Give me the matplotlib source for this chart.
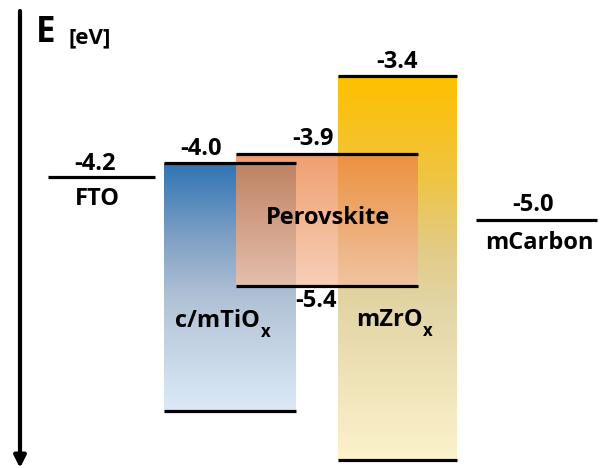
import numpy as np
import matplotlib.pyplot as plt
from matplotlib.colors import to_rgb

# Energieniveaus (eV), wie im Bild beschriftet
schichten = ['FTO', 'c/mTiO', 'Perovskite', 'mZrO', 'mCarbon']
oben_ev = [-4.2, -4.0, -3.9, -3.4, -5.0]
unten_ev = [None, None, -5.4, None, None]

# Schema-Layout (Bildkoordinaten, y nach unten)
links = [48, 164, 236, 338, 476]
rechts = [155, 296, 418, 457, 597]
oben_y = [177, 163, 154, 76, 220]
unten_y = [None, 411, 286, 460, None]

plt.rcParams['font.family'] = ['Open Sans', 'DejaVu Sans']
plt.rcParams['font.weight'] = 'bold'

fig = plt.figure(figsize=(6.03, 4.68), dpi=100)
ax = fig.add_axes([0, 0, 1, 1])
ax.set_xlim(0, 603)
ax.set_ylim(468, 0)
ax.axis('off')


def verlauf(x0, x1, y0, y1, stops, alpha=1.0, z=1):
    n = 200
    pos = np.linspace(0, 1, n)
    sp = [s[0] for s in stops]
    cols = np.array([to_rgb(s[1]) for s in stops])
    rgb = np.stack([np.interp(pos, sp, cols[:, k]) for k in range(3)], axis=1)
    img = np.ones((n, 1, 4))
    img[:, 0, :3] = rgb
    img[:, 0, 3] = alpha
    ax.imshow(img, extent=(x0, x1, y1, y0), origin='upper', aspect='auto',
              interpolation='bilinear', zorder=z)


# mZrO
verlauf(links[3], rechts[3], oben_y[3], unten_y[3],
        [(0, '#FFC000'), (0.25, '#F0C43E'), (0.45, '#E2CB86'),
         (0.6, '#E2D5A6'), (1, '#FCF2CB')], z=1)
# c/mTiO
verlauf(links[1], rechts[1], oben_y[1], unten_y[1],
        [(0, '#2F74B5'), (0.3, '#7FA0C4'), (0.55, '#B2C2D6'),
         (1, '#DCEAF7')], z=1)
# Perovskite (halbtransparent)
verlauf(links[2], rechts[2], oben_y[2], unten_y[2],
        [(0, '#EB8345'), (1, '#F5C1A2')], alpha=0.77, z=2)

lw = 2.3
for i in range(len(schichten)):
    ax.plot([links[i], rechts[i]], [oben_y[i], oben_y[i]], color='black',
            lw=lw, solid_capstyle='butt', zorder=5)
    if unten_y[i] is not None:
        ax.plot([links[i], rechts[i]], [unten_y[i], unten_y[i]], color='black',
                lw=lw, solid_capstyle='butt', zorder=5)

fs = 17
# Energie-Beschriftungen
etikett_xy = [(95, 164), (201, 149), (313, 139), (397, 62), (533, 205)]
for (x, y), e in zip(etikett_xy, oben_ev):
    ax.text(x, y, f'{e:.1f}', fontsize=fs, ha='center', va='center', zorder=6)
ax.text(316, 301, f'{unten_ev[2]:.1f}', fontsize=fs, ha='center', va='center', zorder=6)

# Schichtnamen
ax.text(97, 199, schichten[0], fontsize=fs, ha='center', va='center', zorder=6)
ax.text(539, 243, schichten[4], fontsize=fs, ha='center', va='center', zorder=6)
ax.text(328, 218, schichten[2], fontsize=fs, ha='center', va='center', zorder=6)
for x, y, name in [(175, 321, schichten[1]), (356, 320, schichten[3])]:
    t = ax.text(x, y, name, fontsize=fs, ha='left', va='center', zorder=6)
    ax.annotate('x', xy=(1, 0), xycoords=t, xytext=(0.5, -6),
                textcoords='offset points', fontsize=12, ha='left', va='bottom',
                zorder=6)

# Energieachse
ax.annotate('', xy=(20, 468), xytext=(20, 11),
            arrowprops=dict(arrowstyle='-|>,head_width=0.35,head_length=0.7',
                            lw=3, color='black', shrinkA=0, shrinkB=0))
ax.text(36, 33, 'E', fontsize=25, ha='left', va='center')
ax.text(68, 38, '[eV]', fontsize=16, ha='left', va='center')

plt.savefig('out.png', dpi=100)
